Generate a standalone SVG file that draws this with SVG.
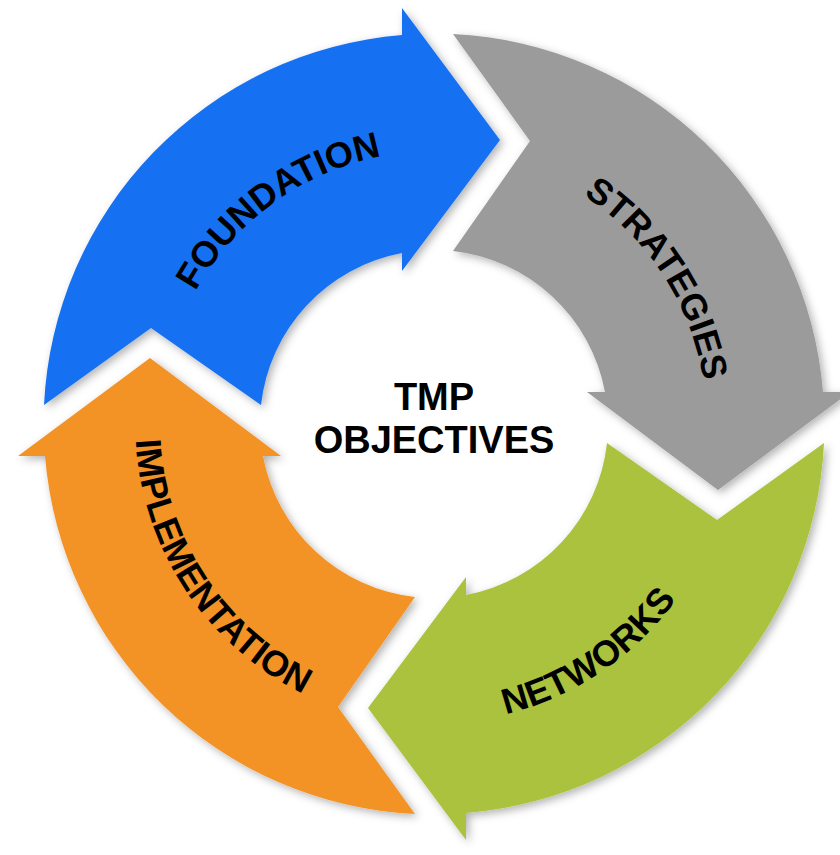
<svg xmlns="http://www.w3.org/2000/svg" width="840" height="855" viewBox="0 0 840 855">
<style>
.lbl{font-family:"Liberation Sans",Arial,sans-serif;font-weight:bold;font-size:36px;fill:#000}
.ctr{font-family:"Liberation Sans",Arial,sans-serif;font-weight:bold;font-size:38px;fill:#000;text-anchor:middle}
.arrow{filter:url(#sh)}
</style>
<defs>
<filter id="sh" x="-10%" y="-10%" width="120%" height="120%">
<feDropShadow dx="3" dy="3" stdDeviation="4" flood-color="#000" flood-opacity="0.3"/>
</filter>
<path id="pF" d="M161.7,405 A273,273 0 0 1 500,159.1"/>
<path id="pS" d="M467.3,153 A273,273 0 0 1 695.1,503.8"/>
<path id="pN" d="M351.6,711.4 A299,299 0 0 0 731.4,455.2"/>
<path id="pI" d="M166.4,290.6 A301,301 0 0 0 452.2,724.4"/>
</defs>
<rect width="840" height="855" fill="#fff"/>
<g id="connectors"></g>
<g id="foundation">
<path class="arrow" fill="#1870F2" d="M44,405 A390,390 0 0 1 402,35 L402,8 L500,140 L402,271 L402,253 A174,174 0 0 0 261,405 L151,328 Z"/>
<text class="lbl"><textPath href="#pF" startOffset="50%" text-anchor="middle">FOUNDATION</textPath></text>
</g>
<g id="strategies">
<path class="arrow" fill="#9B9B9B" d="M453,34 A390,390 0 0 1 823,392 L850,392 L718,490 L587,392 L605,392 A174,174 0 0 0 453,251 L530,141 Z"/>
<text class="lbl"><textPath href="#pS" startOffset="50%" text-anchor="middle">STRATEGIES</textPath></text>
</g>
<g id="networks">
<path class="arrow" fill="#AAC23C" d="M824,443 A390,390 0 0 1 466,813 L466,840 L368,708 L466,577 L466,595 A174,174 0 0 0 607,443 L717,520 Z"/>
<text class="lbl"><textPath href="#pN" startOffset="50%" text-anchor="middle">NETWORKS</textPath></text>
</g>
<g id="implementation">
<path class="arrow" fill="#F39328" d="M415,814 A390,390 0 0 1 45,456 L18,456 L150,358 L281,456 L263,456 A174,174 0 0 0 415,597 L338,707 Z"/>
<text class="lbl"><textPath href="#pI" startOffset="50%" text-anchor="middle">IMPLEMENTATION</textPath></text>
</g>
<g id="objectives">
<text class="ctr" x="434" y="410">TMP</text>
<text class="ctr" x="434" y="453">OBJECTIVES</text>
</g>
</svg>
